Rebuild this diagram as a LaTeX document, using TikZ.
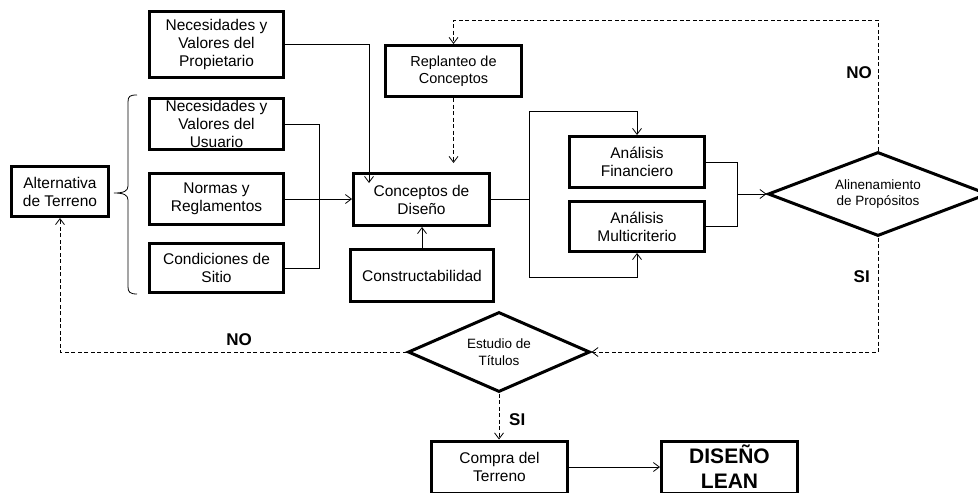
\documentclass[tikz,border=0pt]{standalone}
\usepackage{fontspec}
\setmainfont{Liberation Sans}
\usetikzlibrary{arrows.meta,shapes.geometric,calc}
\begin{document}
\begin{tikzpicture}[x=1pt,y=-1pt,
  box/.style={draw,line width=3pt,inner sep=0pt,align=center,
    font=\fontsize{15.5}{18}\selectfont},
  dec/.style={draw,diamond,line width=3pt,inner sep=0pt,align=center,
    font=\fontsize{13.5}{15.5}\selectfont},
  link/.style={line width=0.8pt},
  tip/.style={-{Straight Barb[length=6pt,width=9pt]}},
  arr/.style={link,tip},
  dashlink/.style={link,dash pattern=on 4pt off 2.5pt},
  lbl/.style={font=\bfseries\fontsize{17}{20}\selectfont,inner sep=0pt}
]
\useasboundingbox (0,0) rectangle (978,493);

% inputs on the left
\node[box,minimum width=134,minimum height=66] (prop) at (216.5,44.5)
  {Necesidades y\\Valores del\\Propietario};
\node[box,minimum width=134,minimum height=51] (usr) at (216.5,124)
  {Necesidades y\\Valores del\\Usuario};
\node[box,minimum width=134,minimum height=51] (norm) at (216.5,199)
  {Normas y\\Reglamentos};
\node[box,minimum width=134,minimum height=49] (cond) at (216.5,268)
  {Condiciones de\\Sitio};
\node[box,minimum width=97,minimum height=50] (alt) at (60,191.5)
  {Alternativa\\de Terreno};

% brace grouping the site inputs
\draw[link] (137,95) .. controls (130,95) and (128,96) .. (128,102)
  -- (128,186) .. controls (128,191) and (124,193) .. (114,193)
  .. controls (124,193) and (128,195) .. (128,200)
  -- (128,287) .. controls (128,292) and (130,294) .. (137,294);

% design core
\node[box,minimum width=136,minimum height=51,
  font=\fontsize{14.5}{17.5}\selectfont] (rep) at (453.5,71)
  {Replanteo de\\Conceptos};
\node[box,minimum width=136,minimum height=52] (con) at (421.5,199.5)
  {Conceptos de\\Diseño};
\node[box,minimum width=143,minimum height=52] (cons) at (422,275.5)
  {Constructabilidad};
\node[box,minimum width=135,minimum height=51] (fin) at (637,162)
  {Análisis\\Financiero};
\node[box,minimum width=135,minimum height=50] (mul) at (637,226.5)
  {Análisis\\Multicriterio};

% decisions
\node[dec,aspect=2.6,minimum width=220,minimum height=84] (ali) at (878,194)
  {Alinenamiento\\de Propósitos};
\node[dec,aspect=2.25,minimum width=182,minimum height=80,
  font=\fontsize{13.5}{16.5}\selectfont] (est) at (499,352)
  {Estudio de\\Títulos};

% outcome
\node[box,minimum width=136,minimum height=52] (compra) at (499.5,467)
  {Compra del\\Terreno};
\node[box,minimum width=136,minimum height=52,
  font=\bfseries\fontsize{21}{25}\selectfont] (lean) at (729.5,467)
  {DISEÑO\\LEAN};

% solid connectors
\draw[arr] (prop.east) -| ($(con.north west)+(17,11)$);
\draw[link] (usr.east) -- ++(34,0) |- (cond.east);
\draw[arr] (norm.east) -- (norm.east -| con.west);
\draw[arr] (cons.north) -- (cons.north |- con.south);

\coordinate (split) at ($(con.east)+(38,0)$);
\draw[link] (con.east) -- (split);
\draw[arr] (split) -- ++(0,-88) -| (fin.north);
\draw[arr] (split) -- ++(0,78) -| (mul.south);

\coordinate (join) at ($(fin.east)+(31,0)$);
\draw[link] (fin.east) -- (join) |- (mul.east);
\draw[arr] (ali.west -| join) -- (ali.west);

\draw[arr] (compra.east) -- (compra.east -| lean.west);

% dashed feedback loops
\coordinate (top) at (878,20);
\draw[dashlink,tip] (ali.north) -- (ali.north |- top) -| (rep.north);
\draw[dashlink,tip] (rep.south) -- ($(rep.south |- con.north)+(0,-9)$);
\draw[dashlink,tip] (ali.south) |- (est.east);
\draw[dashlink,tip] (est.west) -| (alt.south);
\draw[dashlink,tip] (est.south) -- (est.south |- compra.north);

% decision labels
\node[lbl,anchor=east] (no1) at (872,73) {NO};
\node[lbl,anchor=east] (si1) at (870,277) {SI};
\node[lbl] (no2) at (239,340) {NO};
\node[lbl,anchor=west] (si2) at (509,420) {SI};
\end{tikzpicture}
\end{document}
